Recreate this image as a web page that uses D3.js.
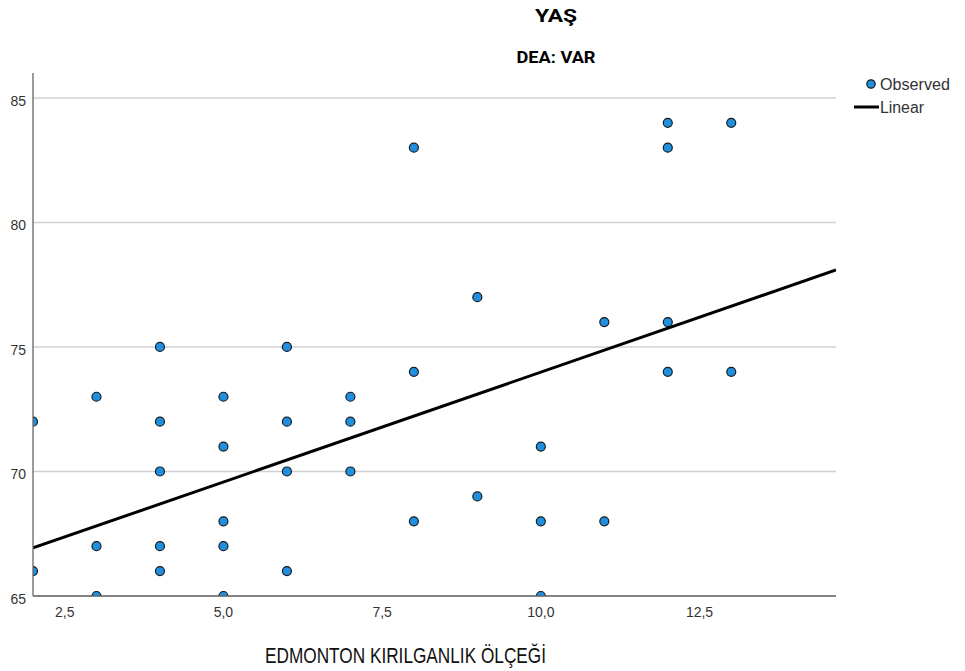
<!DOCTYPE html>
<html><head><meta charset="utf-8">
<script src="https://cdn.jsdelivr.net/npm/d3@7"></script>
<style>body{margin:0;background:#fff;} svg{display:block;}</style>
</head><body>
<svg id="c" width="965" height="671"></svg>
<script>
const xVals = [2,2,3,3,3,4,4,4,4,4,5,5,5,5,5,6,6,6,6,7,7,7,8,8,8,9,9,10,10,10,11,11,12,12,12,12,13,13];
const yVals = [72,66,73,67,65,75,72,70,67,66,73,71,68,67,65,75,72,70,66,73,72,70,83,74,68,77,69,71,68,65,76,68,84,83,76,74,84,74];
const xTicks = [2.5,5.0,7.5,10.0,12.5];
const yTicks = [65,70,75,80,85];
const fitLine = [[2,66.93],[14.65,78.09]];
const title = "YAŞ", subtitle = "DEA: VAR", xLabel = "EDMONTON KIRILGANLIK ÖLÇEĞİ";
const legendLabels = ["Observed","Linear"];

const svg = d3.select("#c");
const L=33,R=836,T=73,B=596;
const x = d3.scaleLinear().domain([2,14.65]).range([L,R]);
const y = d3.scaleLinear().domain([65,86]).range([B,T]);
const sans = "'Liberation Sans',Arial,sans-serif";
const fmt = d => d3.format(".1f")(d).replace(".",",");

svg.append("defs").append("clipPath").attr("id","pc").append("rect")
  .attr("x",L).attr("y",T).attr("width",R-L).attr("height",B-T);

// gridlines
svg.append("g").selectAll("line").data(yTicks).join("line")
  .attr("x1",L).attr("x2",R).attr("y1",d=>y(d)).attr("y2",d=>y(d))
  .attr("stroke","#d0d0d0").attr("stroke-width",1.5);

// y tick labels
svg.append("g").selectAll("text").data(yTicks).join("text")
  .attr("x",L-7).attr("y",d=>y(d)+8).attr("text-anchor","end")
  .attr("font-family",sans).attr("font-size",14).attr("fill","#333")
  .text(d=>d);
// x tick labels
svg.append("g").selectAll("text").data(xTicks).join("text")
  .attr("x",d=>x(d)).attr("y",B+21).attr("text-anchor","middle")
  .attr("font-family",sans).attr("font-size",14).attr("fill","#333")
  .text(fmt);

const g = svg.append("g").attr("clip-path","url(#pc)");
g.append("path").datum(fitLine)
  .attr("d",d3.line().x(d=>x(d[0])).y(d=>y(d[1])))
  .attr("stroke","#000").attr("stroke-width",3).attr("fill","none");
g.selectAll("circle").data(xVals.map((v,i)=>[v,yVals[i]])).join("circle")
  .attr("cx",d=>x(d[0])).attr("cy",d=>y(d[1])).attr("r",4.5)
  .attr("fill","#1f8fe0").attr("stroke","#1a1a1a").attr("stroke-width",1.2);

// axes lines
svg.append("line").attr("x1",L).attr("x2",L).attr("y1",T).attr("y2",B).attr("stroke","#666").attr("stroke-width",1.3);
svg.append("line").attr("x1",L).attr("x2",R).attr("y1",B).attr("y2",B).attr("stroke","#666").attr("stroke-width",1.3);

// titles
svg.append("text").attr("x",556).attr("y",22).attr("text-anchor","middle")
  .attr("font-family","Roboto,sans-serif").attr("font-weight","bold").attr("font-size",18)
  .attr("textLength",42).attr("lengthAdjust","spacingAndGlyphs").text(title);
svg.append("text").attr("x",556).attr("y",63).attr("text-anchor","middle")
  .attr("font-family","Roboto,sans-serif").attr("font-weight","bold").attr("font-size",17)
  .attr("textLength",79).attr("lengthAdjust","spacingAndGlyphs").text(subtitle);
svg.append("text").attr("x",265).attr("y",663)
  .attr("font-family",sans).attr("font-size",22).attr("fill","#111")
  .attr("textLength",281).attr("lengthAdjust","spacingAndGlyphs").text(xLabel);

// legend
svg.append("circle").attr("cx",871).attr("cy",84).attr("r",4.2)
  .attr("fill","#1f8fe0").attr("stroke","#1a1a1a").attr("stroke-width",1.2);
svg.append("line").attr("x1",854).attr("x2",879).attr("y1",107).attr("y2",107).attr("stroke","#000").attr("stroke-width",3);
svg.append("text").attr("x",880).attr("y",90).attr("font-family",sans).attr("font-size",16).attr("fill","#333")
  .attr("textLength",70).attr("lengthAdjust","spacingAndGlyphs").text(legendLabels[0]);
svg.append("text").attr("x",880).attr("y",113).attr("font-family",sans).attr("font-size",16).attr("fill","#333")
  .attr("textLength",44).attr("lengthAdjust","spacingAndGlyphs").text(legendLabels[1]);
</script>
</body></html>
